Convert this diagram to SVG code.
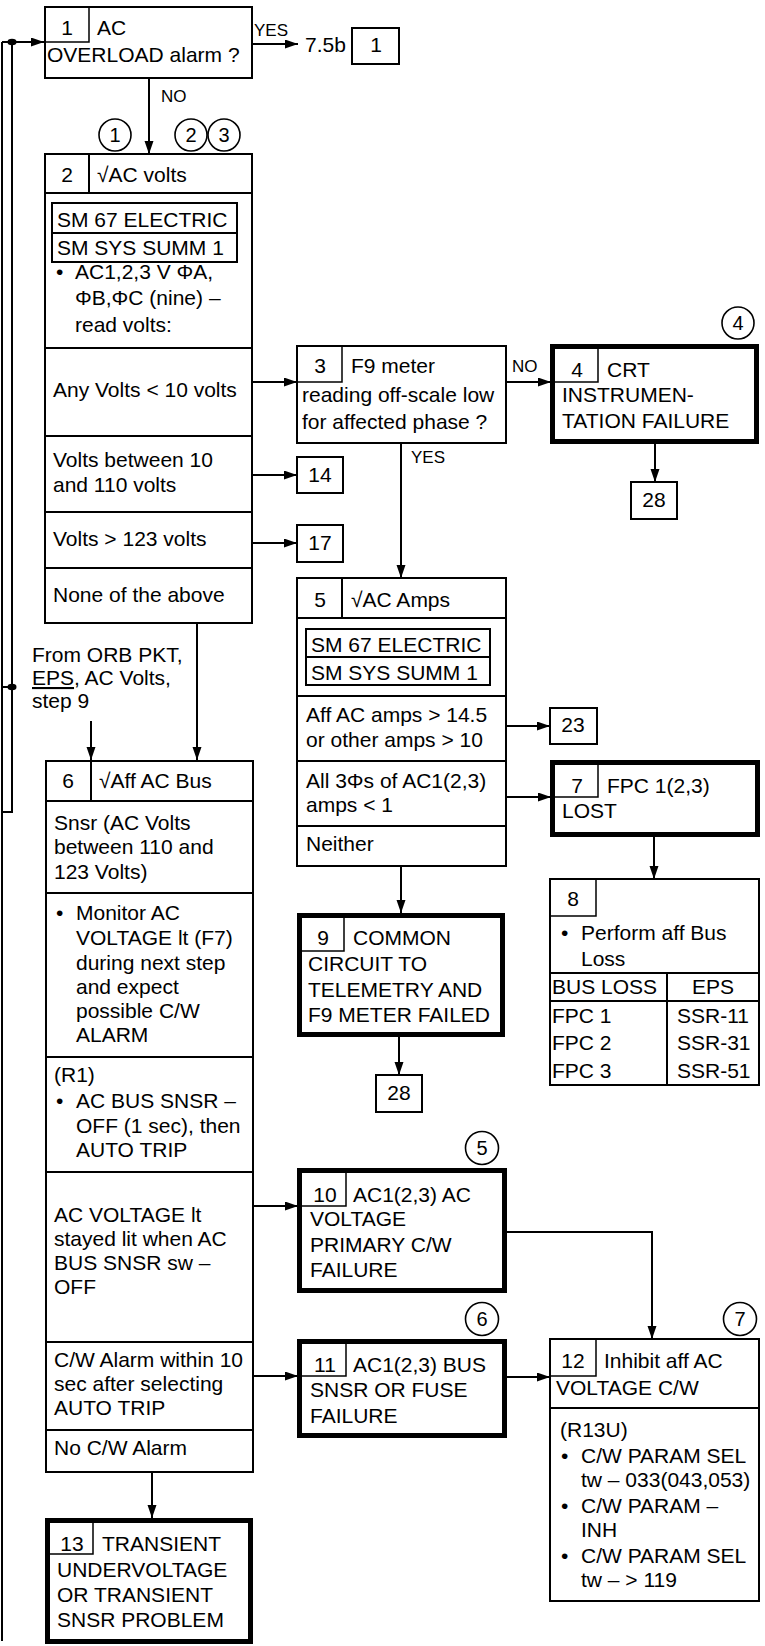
<svg xmlns="http://www.w3.org/2000/svg" width="765" height="1646" viewBox="0 0 765 1646">
<defs>
<marker id="ah" markerUnits="userSpaceOnUse" markerWidth="14" markerHeight="10" refX="13" refY="4.5" orient="auto">
<path d="M0,0 L13,4.5 L0,9 z" fill="#000"/>
</marker>
<style>
text{font-family:"Liberation Sans",Arial,sans-serif;font-size:21px;fill:#000}
.lb{font-size:17px}
.c{text-anchor:middle}
.cn{font-size:20px;text-anchor:middle}
.bx{fill:#fff;stroke:#000;stroke-width:2}
.tk{fill:#fff;stroke:#000;stroke-width:5}
.ln{fill:none;stroke:#000;stroke-width:2}
.th{fill:none;stroke:#000;stroke-width:1.5}
.cr{fill:#fff;stroke:#000;stroke-width:1.6}
.ar{fill:none;stroke:#000;stroke-width:2;marker-end:url(#ah)}
</style>
</defs>
<rect width="765" height="1646" fill="#fff"/>

<g id="connectors">
<path class="ln" d="M2,42 V1641" stroke-width="2.5"/>
<path class="ln" d="M12,42 V812 H2"/>
<path class="ln" d="M2,687 H12"/>
<path class="ar" d="M2,42 H44"/>
<ellipse cx="12" cy="42" rx="4.5" ry="3.2"/>
<ellipse cx="12" cy="687" rx="4.5" ry="3.2"/>
<path class="ar" d="M253,44 H298"/>
<path class="ar" d="M149,79 V154"/>
<path class="ar" d="M253,382 H297"/>
<path class="ar" d="M253,475 H297"/>
<path class="ar" d="M253,543 H297"/>
<path class="ar" d="M197,623 V760"/>
<path class="ar" d="M91,721 V760"/>
<path class="ar" d="M506,382 H551"/>
<path class="ar" d="M655,444 V482"/>
<path class="ar" d="M401,443 V578"/>
<path class="ar" d="M506,726 H550"/>
<path class="ar" d="M506,797 H551"/>
<path class="ar" d="M654,837 V879"/>
<path class="ar" d="M401,866 V913"/>
<path class="ar" d="M399,1037 V1075"/>
<path class="ar" d="M253,1206 H298"/>
<path class="ar" d="M253,1376 H298"/>
<path class="ar" d="M507,1232 H652 V1339"/>
<path class="ar" d="M507,1377 H550"/>
<path class="ar" d="M152,1472 V1518"/>
<text class="lb" x="254" y="36">YES</text>
<text class="lb" x="161" y="102">NO</text>
<text class="lb" x="512" y="372">NO</text>
<text class="lb" x="411" y="463">YES</text>
</g>

<g id="n1">
<rect class="bx" x="45" y="7" width="207" height="71"/>
<path class="th" d="M45,42 H89 V7"/>
<text class="c" x="67" y="35">1</text>
<text x="97" y="35">AC</text>
<text x="47" y="62">OVERLOAD alarm ?</text>
</g>

<g id="ref1">
<text x="305" y="52">7.5b</text>
<rect class="bx" x="352" y="28" width="47" height="36"/>
<text class="c" x="376" y="52">1</text>
</g>

<g id="circles">
<circle class="cr" cx="115" cy="135" r="16"/><text class="cn" x="115" y="142">1</text>
<circle class="cr" cx="191" cy="135" r="16"/><text class="cn" x="191" y="142">2</text>
<circle class="cr" cx="224" cy="135" r="16"/><text class="cn" x="224" y="142">3</text>
<circle class="cr" cx="738" cy="323" r="16"/><text class="cn" x="738" y="330">4</text>
<circle class="cr" cx="482" cy="1148" r="16.5"/><text class="cn" x="482" y="1155">5</text>
<circle class="cr" cx="482" cy="1319" r="16.5"/><text class="cn" x="482" y="1326">6</text>
<circle class="cr" cx="740" cy="1319" r="16.5"/><text class="cn" x="740" y="1326">7</text>
</g>

<g id="n2">
<rect class="bx" x="45" y="154" width="207" height="469"/>
<path class="ln" d="M45,193 H252 M89,154 V193 M45,348 H252 M45,436 H252 M45,512 H252 M45,568 H252"/>
<rect class="bx" x="52" y="203" width="185" height="30"/>
<rect class="bx" x="52" y="233" width="185" height="29"/>
<text class="c" x="67" y="182">2</text>
<text x="97" y="182">√AC volts</text>
<text x="57" y="227">SM 67 ELECTRIC</text>
<text x="57" y="255">SM SYS SUMM 1</text>
<text x="56" y="279">•</text>
<text x="75" y="279">AC1,2,3 V ΦA,</text>
<text x="75" y="305">ΦB,ΦC (nine) –</text>
<text x="75" y="332">read volts:</text>
<text x="53" y="397">Any Volts &lt; 10 volts</text>
<text x="53" y="467">Volts between 10</text>
<text x="53" y="492">and 110 volts</text>
<text x="53" y="546">Volts &gt; 123 volts</text>
<text x="53" y="602">None of the above</text>
</g>

<g id="n14"><rect class="bx" x="297" y="457" width="46" height="36"/><text class="c" x="320" y="482">14</text></g>
<g id="n17"><rect class="bx" x="297" y="525" width="46" height="37"/><text class="c" x="320" y="550">17</text></g>

<g id="n3">
<rect class="bx" x="297" y="346" width="209" height="97"/>
<path class="th" d="M297,382 H342 V346"/>
<text class="c" x="320" y="373">3</text>
<text x="351" y="373">F9 meter</text>
<text x="302" y="402">reading off-scale low</text>
<text x="302" y="429">for affected phase ?</text>
</g>

<g id="n4">
<rect class="tk" x="552.5" y="346.5" width="204" height="95"/>
<path class="th" d="M555,382 H598 V349"/>
<text class="c" x="577" y="377">4</text>
<text x="607" y="377">CRT</text>
<text x="562" y="402">INSTRUMEN-</text>
<text x="562" y="428">TATION FAILURE</text>
</g>

<g id="n28a"><rect class="bx" x="631" y="482" width="46" height="37"/><text class="c" x="654" y="507">28</text></g>

<g id="n5">
<rect class="bx" x="297" y="578" width="209" height="288"/>
<path class="ln" d="M297,618 H506 M342,578 V618 M297,696 H506 M297,761 H506 M297,826 H506"/>
<rect class="bx" x="306" y="629" width="184" height="28"/>
<rect class="bx" x="306" y="657" width="184" height="28"/>
<text class="c" x="320" y="607">5</text>
<text x="351" y="607">√AC Amps</text>
<text x="311" y="652">SM 67 ELECTRIC</text>
<text x="311" y="680">SM SYS SUMM 1</text>
<text x="306" y="722">Aff AC amps &gt; 14.5</text>
<text x="306" y="747">or other amps &gt; 10</text>
<text x="306" y="788">All 3Φs of AC1(2,3)</text>
<text x="306" y="812">amps &lt; 1</text>
<text x="306" y="851">Neither</text>
</g>

<g id="n23"><rect class="bx" x="550" y="708" width="47" height="36"/><text class="c" x="573" y="732">23</text></g>

<g id="n7">
<rect class="tk" x="552.5" y="762.5" width="205" height="72"/>
<path class="th" d="M555,797 H598 V765"/>
<text class="c" x="577" y="793">7</text>
<text x="607" y="793">FPC 1(2,3)</text>
<text x="562" y="818">LOST</text>
</g>

<g id="n8">
<rect class="bx" x="550" y="879" width="209" height="206"/>
<path class="th" d="M550,916 H596 V879"/>
<path class="ln" d="M550,973 H759 M550,1001 H759 M667,973 V1085"/>
<text class="c" x="573" y="906">8</text>
<text x="561" y="940">•</text>
<text x="581" y="940">Perform aff Bus</text>
<text x="581" y="966">Loss</text>
<text x="552" y="994">BUS LOSS</text>
<text class="c" x="713" y="994">EPS</text>
<text x="552" y="1023">FPC 1</text>
<text x="552" y="1050">FPC 2</text>
<text x="552" y="1078">FPC 3</text>
<text x="677" y="1023">SSR-11</text>
<text x="677" y="1050">SSR-31</text>
<text x="677" y="1078">SSR-51</text>
</g>

<g id="n9">
<rect class="tk" x="299.5" y="915.5" width="203" height="119"/>
<path class="th" d="M302,951 H344 V918"/>
<text class="c" x="323" y="945">9</text>
<text x="353" y="945">COMMON</text>
<text x="308" y="971">CIRCUIT TO</text>
<text x="308" y="997">TELEMETRY AND</text>
<text x="308" y="1022">F9 METER FAILED</text>
</g>

<g id="n28b"><rect class="bx" x="376" y="1075" width="46" height="37"/><text class="c" x="399" y="1100">28</text></g>

<g id="src">
<text x="32" y="662">From ORB PKT,</text>
<text x="32" y="685"><tspan text-decoration="underline">EPS</tspan>, AC Volts,</text>
<text x="32" y="708">step 9</text>
</g>

<g id="n6">
<rect class="bx" x="46" y="761" width="207" height="711"/>
<path class="ln" d="M46,801 H253 M91,761 V801 M46,893 H253 M46,1057 H253 M46,1172 H253 M46,1342 H253 M46,1430 H253"/>
<text class="c" x="68" y="788">6</text>
<text x="99" y="788">√Aff AC Bus</text>
<text x="54" y="830">Snsr (AC Volts</text>
<text x="54" y="854">between 110 and</text>
<text x="54" y="879">123 Volts)</text>
<text x="56" y="920">•</text>
<text x="76" y="920">Monitor AC</text>
<text x="76" y="945">VOLTAGE lt (F7)</text>
<text x="76" y="970">during next step</text>
<text x="76" y="994">and expect</text>
<text x="76" y="1018">possible C/W</text>
<text x="76" y="1042">ALARM</text>
<text x="54" y="1082">(R1)</text>
<text x="56" y="1108">•</text>
<text x="76" y="1108">AC BUS SNSR –</text>
<text x="76" y="1133">OFF (1 sec), then</text>
<text x="76" y="1157">AUTO TRIP</text>
<text x="54" y="1222">AC VOLTAGE lt</text>
<text x="54" y="1246">stayed lit when AC</text>
<text x="54" y="1270">BUS SNSR sw –</text>
<text x="54" y="1294">OFF</text>
<text x="54" y="1367">C/W Alarm within 10</text>
<text x="54" y="1391">sec after selecting</text>
<text x="54" y="1415">AUTO TRIP</text>
<text x="54" y="1455">No C/W Alarm</text>
</g>

<g id="n13">
<rect class="tk" x="47.5" y="1520.5" width="203" height="121"/>
<path class="th" d="M50,1554 H93 V1523"/>
<text class="c" x="72" y="1551">13</text>
<text x="102" y="1551">TRANSIENT</text>
<text x="57" y="1577">UNDERVOLTAGE</text>
<text x="57" y="1602">OR TRANSIENT</text>
<text x="57" y="1627">SNSR PROBLEM</text>
</g>

<g id="n10">
<rect class="tk" x="299.5" y="1170.5" width="205" height="120"/>
<path class="th" d="M302,1206 H346 V1173"/>
<text class="c" x="325" y="1202">10</text>
<text x="353" y="1202">AC1(2,3) AC</text>
<text x="310" y="1226">VOLTAGE</text>
<text x="310" y="1252">PRIMARY C/W</text>
<text x="310" y="1277">FAILURE</text>
</g>

<g id="n11">
<rect class="tk" x="299.5" y="1341.5" width="205" height="94"/>
<path class="th" d="M302,1376 H346 V1344"/>
<text class="c" x="325" y="1372">11</text>
<text x="353" y="1372">AC1(2,3) BUS</text>
<text x="310" y="1397">SNSR OR FUSE</text>
<text x="310" y="1423">FAILURE</text>
</g>

<g id="n12">
<rect class="bx" x="550" y="1339" width="209" height="262"/>
<path class="th" d="M550,1376 H596 V1339"/>
<path class="ln" d="M550,1408 H759"/>
<text class="c" x="573" y="1368">12</text>
<text x="604" y="1368">Inhibit aff AC</text>
<text x="556" y="1395">VOLTAGE C/W</text>
<text x="560" y="1437">(R13U)</text>
<text x="561" y="1463">•</text>
<text x="581" y="1463">C/W PARAM SEL</text>
<text x="581" y="1487">tw – 033(043,053)</text>
<text x="561" y="1513">•</text>
<text x="581" y="1513">C/W PARAM –</text>
<text x="581" y="1537">INH</text>
<text x="561" y="1563">•</text>
<text x="581" y="1563">C/W PARAM SEL</text>
<text x="581" y="1587">tw – &gt; 119</text>
</g>
</svg>
